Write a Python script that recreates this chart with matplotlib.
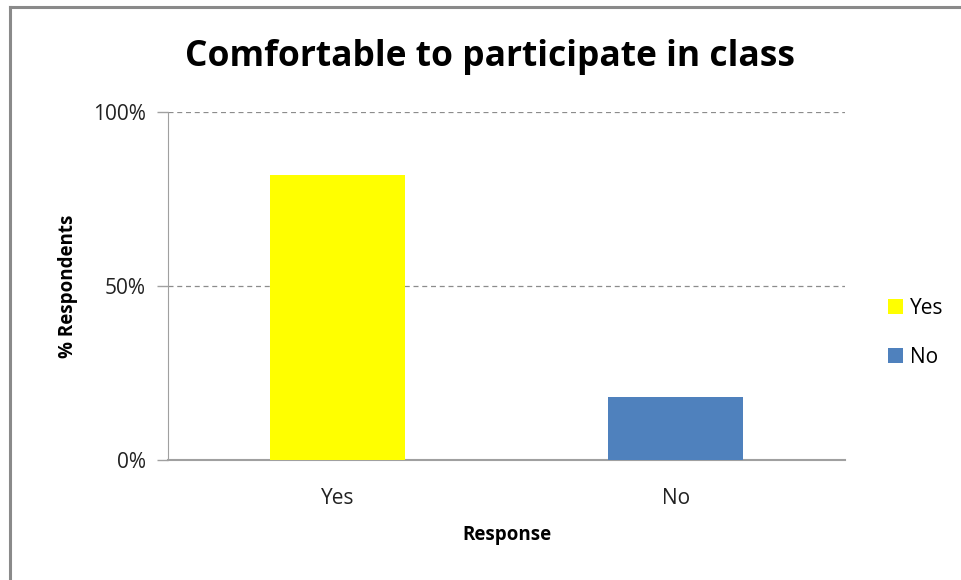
import numpy as np
import matplotlib.pyplot as plt
from matplotlib.lines import Line2D
from matplotlib.patches import Patch
from matplotlib.ticker import FuncFormatter

# data
categories = ['Yes', 'No']
values = [82, 18]
colors = ['#FFFF00', '#4F81BD']
yticks = [0, 50, 100]

plt.rcParams['font.family'] = ['Open Sans', 'DejaVu Sans']

fig = plt.figure(figsize=(9.61, 5.80), dpi=100)
ax = fig.add_axes([168/961, 1-460/580, (845-168)/961, (460-112)/580])

x = np.arange(len(categories))
ax.bar(x, values, width=0.4, color=colors, zorder=3)

ax.set_xlim(-0.5, 1.5)
ax.set_ylim(0, 100)
ax.set_yticks(yticks)
ax.yaxis.set_major_formatter(FuncFormatter(lambda v, p: '%d%%' % v))
ax.set_xticks(x)
ax.set_xticklabels(categories)
ax.tick_params(axis='x', length=0, pad=20, labelsize=15, colors='#222222')
ax.tick_params(axis='y', length=8, width=1, color='#a0a0a0', pad=8, labelsize=15, labelcolor='#222222')

ax.grid(axis='y', linestyle=(0, (4, 3)), color='#8c8c8c', linewidth=0.9, zorder=0)
for s in ['top', 'right']:
    ax.spines[s].set_visible(False)
ax.spines['left'].set_color('#a0a0a0')
ax.spines['bottom'].set_color('#a0a0a0')
ax.spines['bottom'].set_linewidth(1.5)

ax.set_ylabel('% Respondents', fontsize=13.5, fontweight='bold', labelpad=11)
ax.set_xlabel('Response', fontsize=13.5, fontweight='bold', labelpad=12)

fig.text(490/961, 1-57/580, 'Comfortable to participate in class', ha='center', va='center',
         fontsize=25.5, fontweight='bold')

handles = [Patch(facecolor=c, label=k) for c, k in zip(colors, categories)]
fig.legend(handles=handles, loc='center left', bbox_to_anchor=(869/961, 1-333/580),
           frameon=False, fontsize=15, handlelength=0.75, handleheight=0.75,
           handletextpad=0.3, labelspacing=1.35)

# chart frame
fig.add_artist(Line2D([10/961, 10/961], [0, 1-7/580], color='#8a8a8a', linewidth=2.2))
fig.add_artist(Line2D([10/961, 1], [1-7/580, 1-7/580], color='#8a8a8a', linewidth=2.2))

fig.savefig('out.png', dpi=100)
